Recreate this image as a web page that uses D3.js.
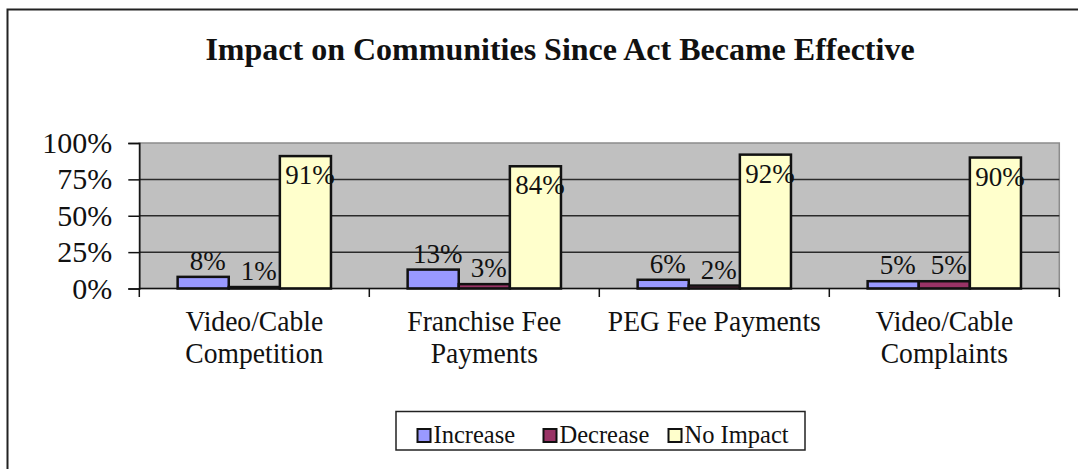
<!DOCTYPE html>
<html>
<head>
<meta charset="utf-8">
<script src="https://cdn.jsdelivr.net/npm/d3@7"></script>
<style>
  body { margin: 0; background: #fff; }
  svg text { font-family: "Liberation Serif", "Times New Roman", serif; fill: #111; }
</style>
</head>
<body>
<div id="chart"></div>
<script>
// chart data
var categories = ["Video/Cable Competition", "Franchise Fee Payments", "PEG Fee Payments", "Video/Cable Complaints"];
var categoryLines = [["Video/Cable", "Competition"], ["Franchise Fee", "Payments"], ["PEG Fee Payments"], ["Video/Cable", "Complaints"]];
var series = ["Increase", "Decrease", "No Impact"];
var increase = [0.08, 0.13, 0.06, 0.05];
var decrease = [0.01, 0.03, 0.02, 0.05];
var noImpact = [0.91, 0.84, 0.92, 0.90];
var yTicks = [0, 0.25, 0.5, 0.75, 1];
var colors = ["#9999ff", "#993366", "#ffffcc"];

var width = 1078, height = 469;
var plot = {left: 139.3, right: 1059.3, top: 143, bottom: 288.5};

var svg = d3.select("#chart").append("svg")
  .attr("width", width)
  .attr("height", height);

// outer frame (only top and left edges fall inside the picture)
svg.append("path")
  .attr("d", "M7.5,469 L7.5,9.5 L1078,9.5")
  .attr("fill", "none")
  .attr("stroke", "#222")
  .attr("stroke-width", 2);

svg.append("text")
  .attr("x", 560)
  .attr("y", 60)
  .attr("text-anchor", "middle")
  .style("font-size", "32px")
  .style("font-weight", "bold")
  .text("Impact on Communities Since Act Became Effective");

var x0 = d3.scaleBand().domain(categories).range([plot.left, plot.right]).padding(0);
var x1 = d3.scaleBand().domain(series).range([0, x0.bandwidth()]).paddingInner(0).paddingOuter(0.75);
var y = d3.scaleLinear().domain([0, 1]).range([plot.bottom, plot.top]);

// plot area
svg.append("rect")
  .attr("x", plot.left)
  .attr("y", plot.top)
  .attr("width", plot.right - plot.left)
  .attr("height", plot.bottom - plot.top)
  .attr("fill", "#c0c0c0")
  .attr("stroke", "#8c8c8c")
  .attr("stroke-width", 1.5);

// gridlines
svg.selectAll(".grid")
  .data(yTicks.slice(1, -1))
  .enter().append("line")
  .attr("x1", plot.left).attr("x2", plot.right)
  .attr("y1", function(d){ return y(d); })
  .attr("y2", function(d){ return y(d); })
  .attr("stroke", "#2a2a2a")
  .attr("stroke-width", 1.5);

// y axis
var yAxis = svg.append("g")
  .attr("transform", "translate(" + plot.left + ",0)")
  .call(d3.axisLeft(y).tickValues(yTicks).tickFormat(d3.format(".0%")).tickSize(11).tickPadding(16));
yAxis.select(".domain").attr("stroke", "#111").attr("stroke-width", 1.5);
yAxis.selectAll(".tick line").attr("stroke", "#111").attr("stroke-width", 1.5);
yAxis.selectAll("text").style("font-size", "30px").attr("fill", "#111");

// bars
var table = categories.map(function(c, i){
  return {cat: c, values: [increase[i], decrease[i], noImpact[i]]};
});

var groups = svg.selectAll(".group")
  .data(table)
  .enter().append("g")
  .attr("transform", function(d){ return "translate(" + x0(d.cat) + ",0)"; });

groups.selectAll("rect")
  .data(function(d){ return d.values.map(function(v, j){ return {s: series[j], v: v, j: j}; }); })
  .enter().append("rect")
  .attr("x", function(d){ return x1(d.s); })
  .attr("y", function(d){ return y(d.v); })
  .attr("width", x1.bandwidth())
  .attr("height", function(d){ return y(0) - y(d.v); })
  .attr("fill", function(d){ return colors[d.j]; })
  .attr("stroke", "#111")
  .attr("stroke-width", 2.5);

groups.selectAll(".lbl")
  .data(function(d){ return d.values.map(function(v, j){ return {s: series[j], v: v}; }); })
  .enter().append("text")
  .attr("x", function(d){ return x1(d.s) + x1.bandwidth() / 2 + 4.5; })
  .attr("y", function(d){ return d.v > 0.5 ? y(d.v) + 28 : y(d.v) - 7; })
  .attr("text-anchor", "middle")
  .style("font-size", "27px")
  .text(function(d){ return d3.format(".0%")(d.v); });

// x axis line and category boundary ticks
svg.append("line")
  .attr("x1", plot.left).attr("x2", plot.right)
  .attr("y1", y(0)).attr("y2", y(0))
  .attr("stroke", "#111").attr("stroke-width", 1.5);

var bounds = categories.map(function(c){ return x0(c); }).concat([plot.right]);
svg.selectAll(".xtick")
  .data(bounds)
  .enter().append("line")
  .attr("x1", function(d){ return d; }).attr("x2", function(d){ return d; })
  .attr("y1", y(0)).attr("y2", y(0) + 8.5)
  .attr("stroke", "#111").attr("stroke-width", 1.5);

// category labels (the source font is a bit narrow, so squeeze it)
var catText = svg.selectAll(".cat")
  .data(categories)
  .enter().append("g")
  .attr("transform", function(c){ return "translate(" + (x0(c) + x0.bandwidth() / 2) + ",0) scale(0.92,1)"; })
  .append("text")
  .attr("text-anchor", "middle")
  .style("font-size", "30px");
catText.each(function(c, i){
  var t = d3.select(this);
  categoryLines[i].forEach(function(line, k){
    t.append("tspan")
      .attr("x", 0)
      .attr("y", 331.5 + k * 31.6)
      .text(line);
  });
});

// legend
var legend = svg.append("g");
legend.append("rect")
  .attr("x", 396).attr("y", 411.5)
  .attr("width", 409).attr("height", 38.5)
  .attr("fill", "#fff")
  .attr("stroke", "#222").attr("stroke-width", 1.5);

var legendX = [417.5, 543.5, 668.5];
series.forEach(function(s, i){
  legend.append("rect")
    .attr("x", legendX[i]).attr("y", 429)
    .attr("width", 13).attr("height", 13)
    .attr("fill", colors[i])
    .attr("stroke", "#111").attr("stroke-width", 2);
  legend.append("text")
    .attr("x", legendX[i] + 16)
    .attr("y", 443)
    .style("font-size", "24.5px")
    .text(s);
});
</script>
</body>
</html>
